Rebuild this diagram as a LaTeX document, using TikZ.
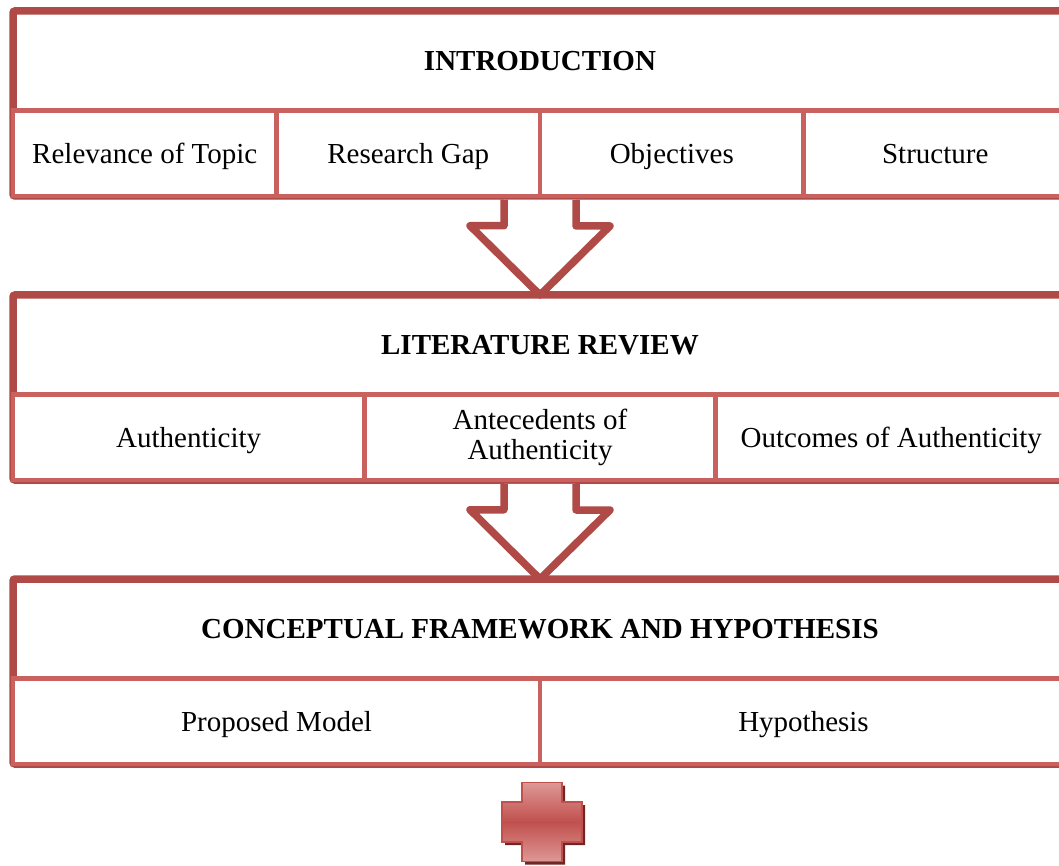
\documentclass[tikz,border=0pt]{standalone}
\usepackage{fontspec}
\setmainfont{Liberation Serif}
\usetikzlibrary{shadows}
\definecolor{outred}{RGB}{176,74,71}
\definecolor{cellred}{RGB}{201,97,94}
\definecolor{plusdark}{RGB}{112,38,36}
\definecolor{pluslight}{RGB}{222,152,150}
\definecolor{plusmid}{RGB}{192,80,77}
\begin{document}
\begin{tikzpicture}[x=1pt, y=-1pt,
    outerbox/.style={draw=outred, line width=7.5pt, fill=white, rounded corners=2pt,
      minimum width=1054pt, minimum height=185pt, inner sep=0pt,
      drop shadow={shadow xshift=1pt, shadow yshift=-4pt, opacity=0.18}},
    titletext/.style={font=\fontsize{29}{30}\selectfont\bfseries},
    cell/.style={draw=cellred, line width=4.5pt, fill=white, inner sep=0pt,
      minimum height=85.5pt, align=center, font=\fontsize{29}{30}\selectfont},
    oneline/.style={text height=22pt, text depth=2pt},
    blockarrow/.style={draw=outred, line width=7.5pt, fill=white, line join=round}]
    \useasboundingbox (0,0) rectangle (1059,866);
    \clip (0,0) rectangle (1059,866);

    % introduction
    \node[outerbox] (intro) at (540,103.5) {};
    \node[titletext] (introtitle) at (540,60.75) {INTRODUCTION};
    \node[cell, oneline, minimum width=263.5pt] (relevance) at (144.75,153.25) {Relevance of Topic};
    \node[cell, oneline, minimum width=263.5pt] (gap) at (408.25,153.25) {Research Gap};
    \node[cell, oneline, minimum width=263.5pt] (objectives) at (671.75,153.25) {Objectives};
    \node[cell, oneline, minimum width=263.5pt] (structure) at (935.25,153.25) {Structure};

    % literature review
    \node[outerbox] (lit) at (540,387.5) {};
    \node[titletext] (littitle) at (540,344.75) {LITERATURE REVIEW};
    \node[cell, oneline, minimum width=351.3pt] (authenticity) at (188.67,437.25) {Authenticity};
    \node[cell, minimum width=351.3pt] (antecedents) at (540,437.25) {Antecedents of\\Authenticity};
    \node[cell, oneline, minimum width=351.3pt] (outcomes) at (891.33,437.25) {Outcomes of Authenticity};

    % conceptual framework
    \node[outerbox] (concept) at (540,671.5) {};
    \node[titletext] (concepttitle) at (540,628.75) {CONCEPTUAL FRAMEWORK AND HYPOTHESIS};
    \node[cell, oneline, minimum width=527pt] (model) at (276.5,721.25) {Proposed Model};
    \node[cell, oneline, minimum width=527pt] (hypothesis) at (803.5,721.25) {Hypothesis};

    % arrows between the blocks
    \draw[blockarrow] ([xshift=-36pt]intro.south) -- ++(0,26) -- ++(-34,0)
        -- ([yshift=-3.75pt]lit.north) -- ++(70,-69) -- ++(-34,0) -- ++(0,-26);
    \draw[blockarrow] ([xshift=-36pt]lit.south) -- ++(0,26) -- ++(-34,0)
        -- ([yshift=-3.75pt]concept.north) -- ++(70,-69) -- ++(-34,0) -- ++(0,-26);

    % plus sign
    \fill[plusdark, shift={(545,825)}] (-20,-39.5) -- (20,-39.5) -- (20,-20) -- (40,-20)
        -- (40,20) -- (20,20) -- (20,39.5) -- (-20,39.5) -- (-20,20) -- (-40,20)
        -- (-40,-20) -- (-20,-20) -- cycle;
    \draw[draw=plusmid, line width=1.5pt, top color=pluslight, bottom color=pluslight,
        middle color=plusmid, shift={(542,822)}] (-20,-39.5) -- (20,-39.5) -- (20,-20) -- (40,-20)
        -- (40,20) -- (20,20) -- (20,39.5) -- (-20,39.5) -- (-20,20) -- (-40,20)
        -- (-40,-20) -- (-20,-20) -- cycle;
\end{tikzpicture}
\end{document}
